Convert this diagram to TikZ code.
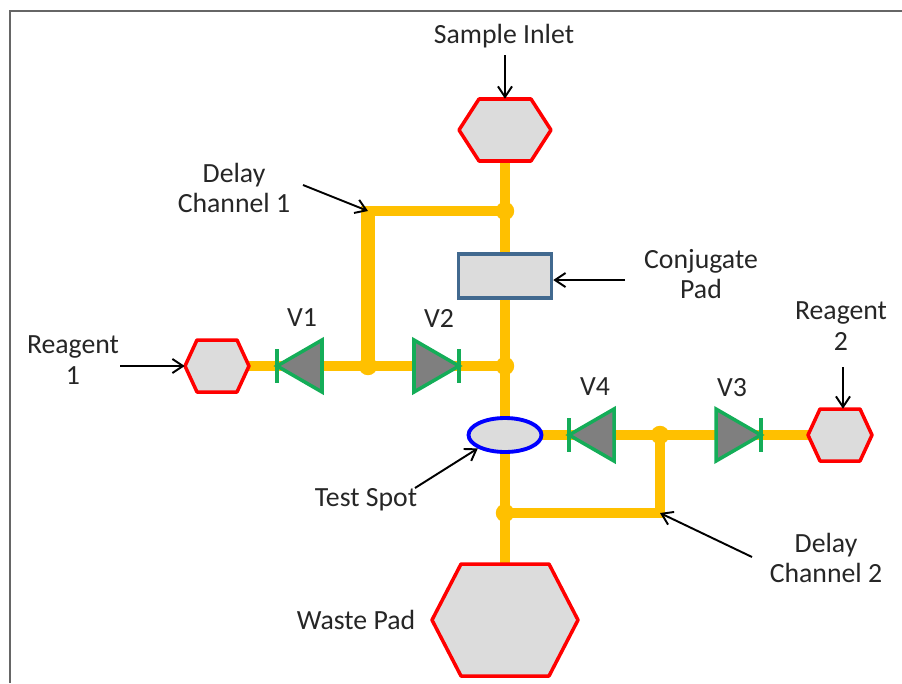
\documentclass[tikz,border=0pt]{standalone}
\usepackage{fontspec}
\setmainfont{Carlito}
\usetikzlibrary{arrows.meta,shapes.geometric}
\definecolor{pipeyellow}{HTML}{FFC000}
\definecolor{padgray}{HTML}{DCDCDC}
\definecolor{valvegreen}{HTML}{14AD58}
\definecolor{valvegray}{HTML}{7F7F7F}
\definecolor{rectblue}{HTML}{41698F}
\tikzset{
  pipe/.style={draw=pipeyellow,line width=6pt},
  widepipe/.style={draw=pipeyellow,line width=8.5pt},
  joint/.style={circle,fill=pipeyellow,inner sep=0pt,minimum size=10.5pt},
  padline/.style={draw=red,line width=2pt,fill=padgray,line join=round},
  lbl/.style={font=\fontsize{15.8}{17.2}\selectfont,align=center,text=black!85,inner sep=0pt},
  pointer/.style={draw=black,line width=1.1pt,-{Straight Barb[length=6pt,width=8pt]}},
}
\begin{document}
\begin{tikzpicture}[x=0.02cm,y=-0.02cm]
  % --- Helper: \hexpad{name}{x}{y}{half width}{half height}{slant} ---
  \newcommand{\hexpad}[6]{%
    \draw[padline] (#2-#4,#3) -- (#2-#4+#6,#3-#5) -- (#2+#4-#6,#3-#5)
      -- (#2+#4,#3) -- (#2+#4-#6,#3+#5) -- (#2-#4+#6,#3+#5) -- cycle;
    \node[minimum width=#4*0.04cm,minimum height=#5*0.04cm,inner sep=0pt] (#1) at (#2,#3) {};}
  % --- Helper: \valve{name}{x}{y}{direction}, tip at x, base towards -direction ---
  \newcommand{\valve}[4]{%
    \begin{scope}[shift={(#2,#3)},xscale=#4]
      \draw[draw=valvegreen,fill=valvegray,line width=2pt,line join=miter] (0,0) -- (-45,-26) -- (-45,26) -- cycle;
      \draw[draw=valvegreen,line width=2pt] (0,-17) -- (0,17);
      \node[inner sep=0pt] (#1) at (0,0) {};
    \end{scope}}
  \useasboundingbox (0,0) rectangle (902,683);
  % frame
  \draw[draw=black!60,line width=1.2pt] (10,683) -- (10,11) -- (902,11);

  % junctions and corners of the channels
  \coordinate (inletC) at (505,130);
  \coordinate (wasteC) at (505,620);
  \coordinate (reagentAC) at (217,366);
  \coordinate (reagentBC) at (840,435);
  \coordinate (spotC) at (505,435);
  \coordinate (cornerA) at (368,211);
  \coordinate (cornerB) at (660,513);
  \draw[pipe] (inletC) -- (wasteC);
  \draw[pipe] (reagentAC) -- (505,366);
  \draw[pipe] (spotC) -- (reagentBC);
  \node[joint] (jointA) at (505,211) {};
  \node[joint] (jointB) at (368,366) {};
  \node[joint] (jointC) at (505,366) {};
  \node[joint] (jointD) at (660,435) {};
  \node[joint] (jointE) at (505,513) {};
  \draw[pipe] (jointA.center) -- (cornerA);
  \draw[widepipe,shorten <=-2.8pt] (cornerA) -- (jointB.center);
  \draw[pipe] (jointE.center) -- (cornerB) -- (jointD.center);

  % pads
  \hexpad{inlet}{505}{130}{46}{31}{20}
  \hexpad{reagentA}{217}{366}{32}{26}{12}
  \hexpad{reagentB}{840}{435}{32}{26}{12}
  \hexpad{waste}{505}{620}{73}{56}{29}
  \node[draw=rectblue,line width=2pt,fill=padgray,minimum width=1.86cm,minimum height=0.88cm,inner sep=0pt] (conjugate) at (505,276) {};
  \node[ellipse,draw=blue,line width=2.2pt,fill=padgray,minimum width=1.46cm,minimum height=0.68cm,inner sep=0pt] (spot) at (505,435) {};

  % valves
  \valve{vA}{277}{366}{-1}
  \valve{vB}{459}{366}{1}
  \valve{vC}{761}{435}{1}
  \valve{vD}{569}{435}{-1}

  % labels
  \node[lbl] (lblInlet) at (504,36) {Sample Inlet};
  \node[lbl] (lblDelayA) at (234,188) {Delay\\Channel 1};
  \node[lbl] (lblConj) at (701,274) {Conjugate\\Pad};
  \node[lbl] (lblReagentA) at (73,360) {Reagent\\1};
  \node[lbl] (lblReagentB) at (841,326) {Reagent\\2};
  \node[lbl] (lblSpot) at (366,500) {Test Spot};
  \node[lbl] (lblDelayB) at (826,558) {Delay\\Channel 2};
  \node[lbl] (lblWaste) at (356,620) {Waste Pad};
  \node[lbl] (lblVA) at (302,318) {V1};
  \node[lbl] (lblVB) at (439,318) {V2};
  \node[lbl] (lblVC) at (732,388) {V3};
  \node[lbl] (lblVD) at (595,387) {V4};

  % pointers
  \coordinate (tailDelayA) at (303,185);
  \coordinate (tailConj) at (625,280);
  \coordinate (tailReagentA) at (120,366);
  \coordinate (tailReagentB) at (843,367);
  \coordinate (tailSpot) at (415,488);
  \coordinate (tailDelayB) at (752,557);
  \coordinate (tailInlet) at (505,55);
  \draw[pointer] (tailInlet) -- (inlet.north);
  \draw[pointer] (tailDelayA) -- (cornerA);
  \draw[pointer] (tailConj) -- (conjugate.east |- tailConj);
  \draw[pointer] (tailReagentA) -- (reagentA.west);
  \draw[pointer] (tailReagentB) -- (tailReagentB |- reagentB.north);
  \draw[pointer] (tailSpot) -- (spot.south west);
  \draw[pointer] (tailDelayB) -- (cornerB);
\end{tikzpicture}
\end{document}
